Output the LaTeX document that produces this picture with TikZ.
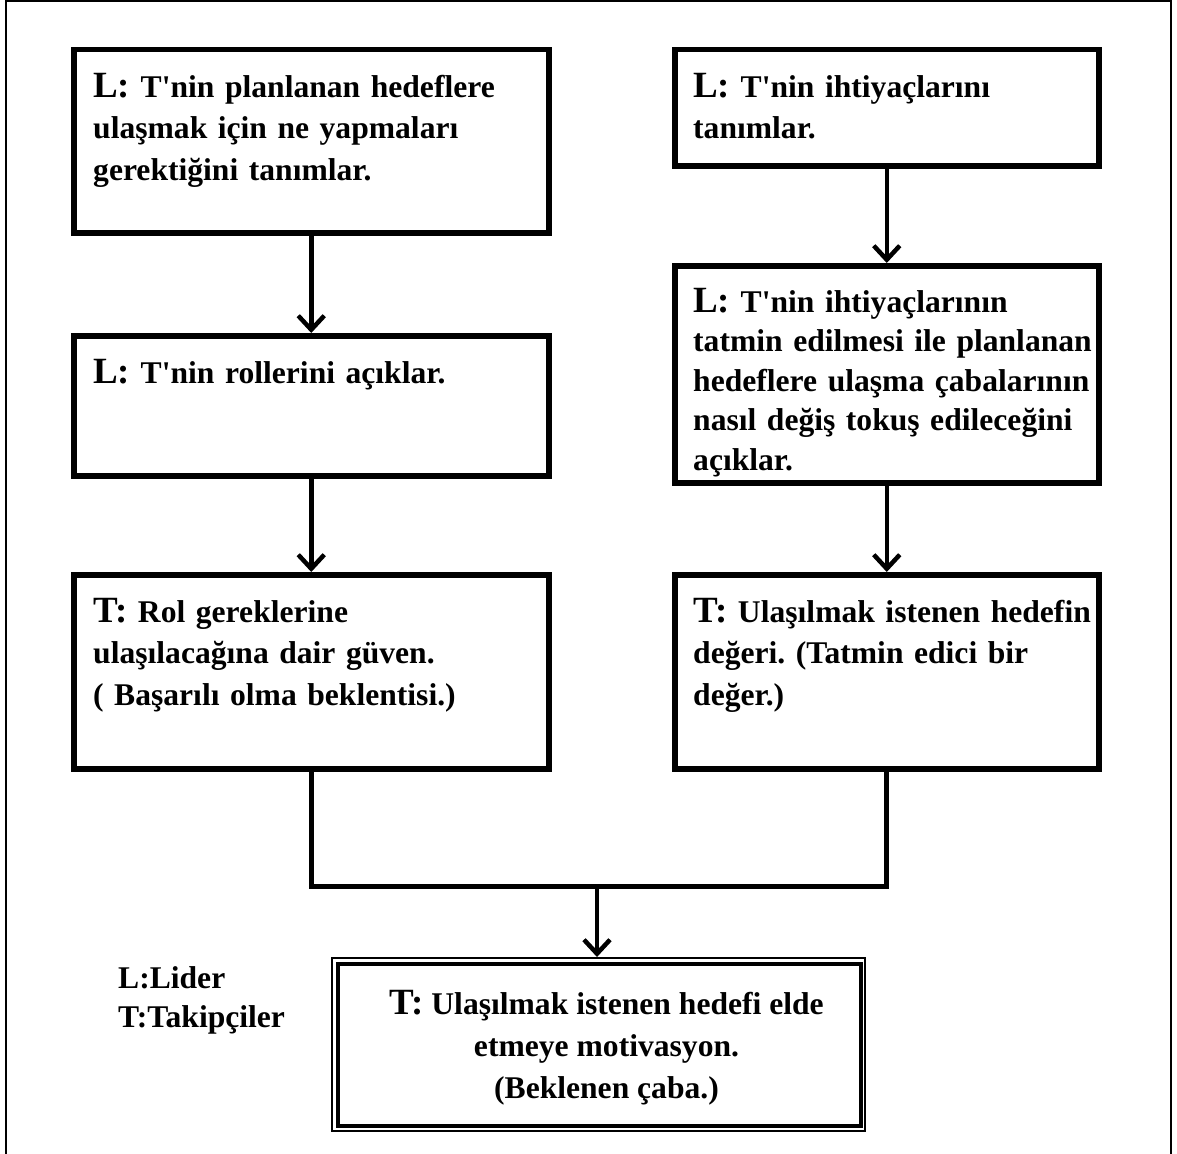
\documentclass[tikz,border=0pt]{standalone}
\usepackage{fontspec}
\setmainfont{Liberation Serif}
\usetikzlibrary{arrows.meta,calc}
\newcommand\bigLT[1]{{\fontsize{37}{41}\selectfont #1}}
\newcommand\ap{\textquotesingle}
\frenchspacing
\begin{document}
\begin{tikzpicture}[x=1pt,y=-1pt,
  box/.style={draw, line width=5.5pt, inner sep=0pt, anchor=north west},
  txt/.style={anchor=north west, inner sep=0pt, align=left,
    font=\bfseries\fontsize{31.6}{41.5}\selectfont},
  arr/.style={line width=4.5pt, -{Straight Barb[length=14pt,width=26pt,line width=4.5pt]}},
  conn/.style={line width=5pt, line join=miter},
  frame/.style={line width=2pt}]
\useasboundingbox (0,0) rectangle (1177,1153);
% outer frame (bottom edge outside the picture)
\draw[frame] (6,1170) -- (6,1) -- (1171,1) -- (1171,1170);

% boxes
\node[box, minimum width=475pt, minimum height=183pt] (b1) at (71,47) {};
\node[box, minimum width=424pt, minimum height=116pt] (b2) at (672,47) {};
\node[box, minimum width=475pt, minimum height=140pt] (b3) at (71,333) {};
\node[box, minimum width=424pt, minimum height=217pt] (b4) at (672,263) {};
\node[box, minimum width=475pt, minimum height=194pt] (b5) at (71,572) {};
\node[box, minimum width=424pt, minimum height=194pt] (b6) at (672,572) {};

% texts
\node[txt, text width=445pt] (t1) at ($(b1.north west)+(22,26)$)
  {\bigLT{L:} T\ap nin planlanan hedeflere\\ulaşmak için ne yapmaları\\gerektiğini tanımlar.};
\node[txt, text width=410pt] (t2) at ($(b2.north west)+(21,26)$)
  {\bigLT{L:} T\ap nin ihtiyaçlarını\\tanımlar.};
\node[txt, text width=445pt] (t3) at ($(b3.north west)+(22,26)$)
  {\bigLT{L:} T\ap nin rollerini açıklar.};
\node[txt, text width=410pt, font=\bfseries\fontsize{31.6}{39.5}\selectfont] (t4)
  at ($(b4.north west)+(21,25)$)
  {\bigLT{L:} T\ap nin ihtiyaçlarının\\tatmin edilmesi ile planlanan\\hedeflere ulaşma çabalarının\\nasıl değiş tokuş edileceğini\\açıklar.};
\node[txt, text width=445pt] (t5) at ($(b5.north west)+(22,26)$)
  {\bigLT{T:} Rol gereklerine\\ulaşılacağına dair güven.\\( Başarılı olma beklentisi.)};
\node[txt, text width=410pt] (t6) at ($(b6.north west)+(21,26)$)
  {\bigLT{T:} Ulaşılmak istenen hedefin\\değeri. (Tatmin edici bir\\değer.)};

% bottom double box
\node[draw, line width=2pt, inner sep=0pt, anchor=north west,
  minimum width=533pt, minimum height=173pt] (bbo) at (331,957) {};
\node[draw, line width=4pt, inner sep=0pt, anchor=north west,
  minimum width=523pt, minimum height=162pt] (bb) at (336,962) {};
\node[anchor=north, inner sep=0pt, align=center,
  font=\bfseries\fontsize{31.6}{42}\selectfont] (tb) at ($(bb.north)+(7,28)$)
  {\bigLT{T:} Ulaşılmak istenen hedefi elde\\etmeye motivasyon.\\(Beklenen çaba.)};

% legend
\node[txt, font=\bfseries\fontsize{31.6}{39}\selectfont] (leg) at (118,966)
  {L:Lider\\T:Takipçiler};

% arrows
\draw[arr] (b1.south) -- (b3.north);
\draw[arr] (b3.south) -- (b5.north);
\draw[arr] (b2.south) -- (b4.north);
\draw[arr] (b4.south) -- (b6.north);
\coordinate (j) at (597,886);
\draw[conn] (b5.south) |- (j) -| (b6.south);
\draw[arr] (j) -- (bbo.north -| j);
\end{tikzpicture}
\end{document}
